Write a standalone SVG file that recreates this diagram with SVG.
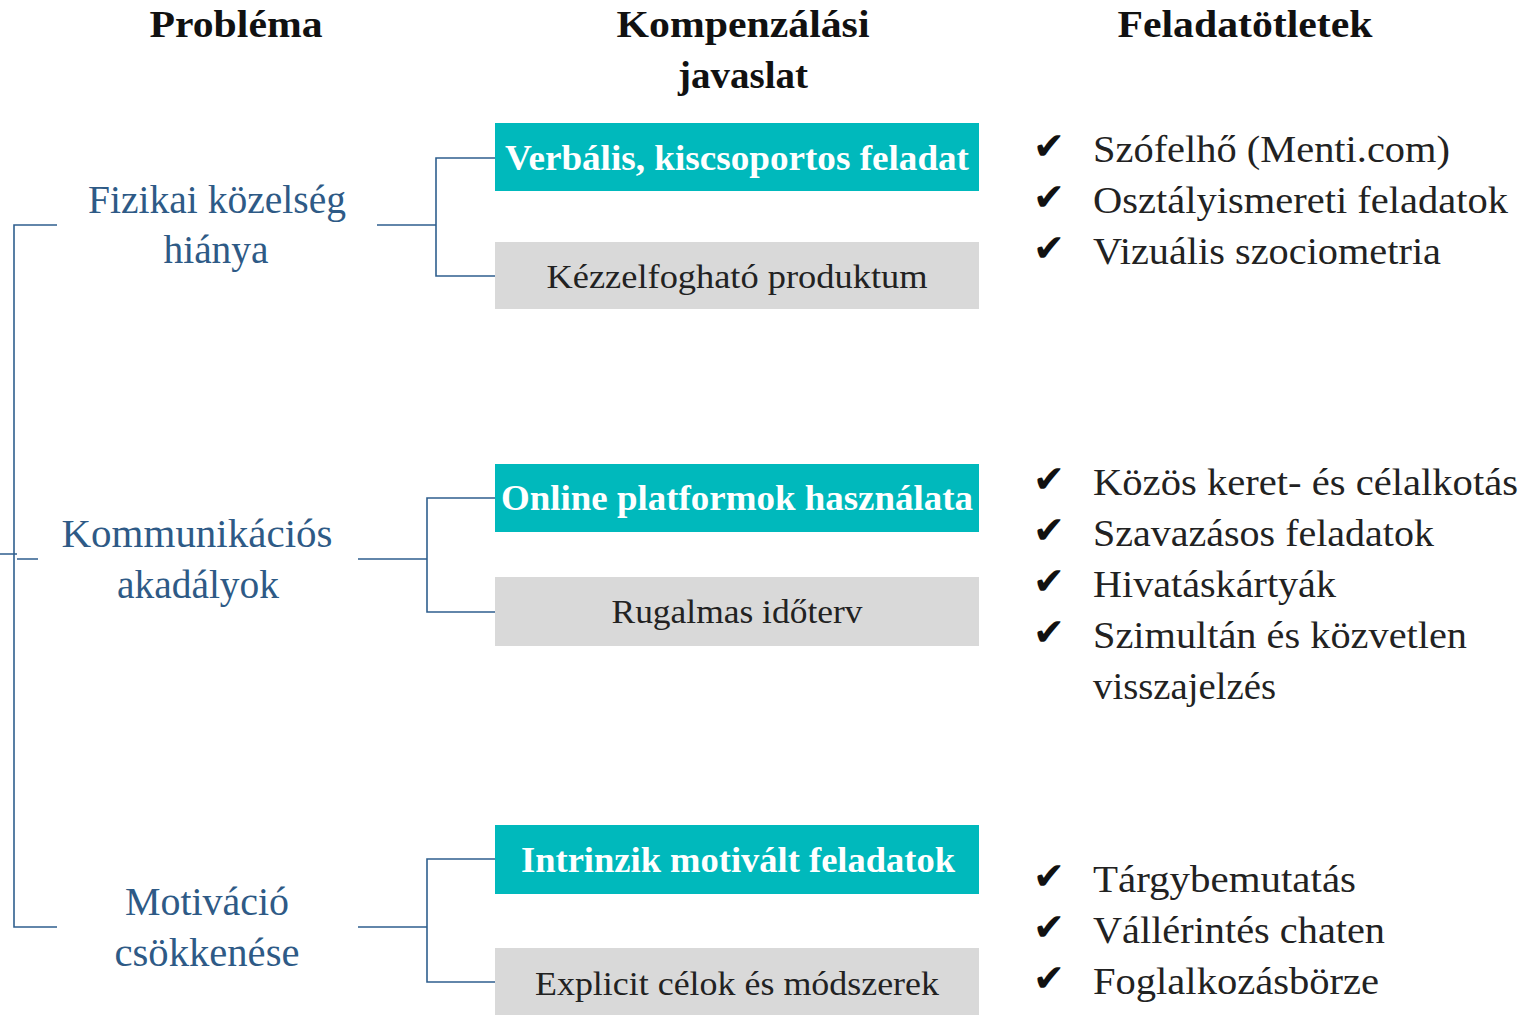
<svg xmlns="http://www.w3.org/2000/svg" width="1528" height="1015" viewBox="0 0 1528 1015">
<style>
.hdr{font-family:"Liberation Serif",serif;font-weight:bold;font-size:38px;fill:#111;text-anchor:middle}
.prob{font-family:"Liberation Serif",serif;font-size:39px;fill:#2E5A86;text-anchor:middle}
.teal{fill:#00B9BC}
.gray{fill:#D9D9D9}
.tt{font-family:"Liberation Serif",serif;font-weight:bold;font-size:35px;fill:#fff;text-anchor:middle}
.gt{font-family:"Liberation Serif",serif;font-size:34px;fill:#222;text-anchor:middle}
.li{font-family:"Liberation Serif",serif;font-size:38px;fill:#222}
.ck{font-family:"DejaVu Sans",sans-serif;font-size:38px;fill:#111}
.conn{fill:none;stroke:#2F5F8E;stroke-width:1.6}
</style>
<rect width="1528" height="1015" fill="#fff"/>
<g id="headers">
<text class="hdr" x="236" y="37" textLength="173" lengthAdjust="spacingAndGlyphs">Probléma</text>
<text class="hdr" x="743" y="37" textLength="253" lengthAdjust="spacingAndGlyphs">Kompenzálási</text>
<text class="hdr" x="743" y="88" textLength="130" lengthAdjust="spacingAndGlyphs">javaslat</text>
<text class="hdr" x="1245" y="37" textLength="255" lengthAdjust="spacingAndGlyphs">Feladatötletek</text>
</g>
<g id="connectors">
<path class="conn" d="M57,225 H14 V927 H57"/>
<path class="conn" d="M0,554 H17 M17,559 H38" stroke-width="2"/>
<path class="conn" d="M377,225 H436 M495,158 H436 V276 H495"/>
<path class="conn" d="M358,559 H427 M495,498 H427 V612 H495"/>
<path class="conn" d="M358,927 H427 M495,859 H427 V982 H495"/>
</g>
<g id="p1"><text class="prob" x="217" y="213" textLength="258" lengthAdjust="spacingAndGlyphs">Fizikai közelség</text><text class="prob" x="216" y="263" textLength="105" lengthAdjust="spacingAndGlyphs">hiánya</text></g>
<g id="p2"><text class="prob" x="197" y="547" textLength="271" lengthAdjust="spacingAndGlyphs">Kommunikációs</text><text class="prob" x="198" y="598" textLength="162" lengthAdjust="spacingAndGlyphs">akadályok</text></g>
<g id="p3"><text class="prob" x="207" y="915" textLength="164" lengthAdjust="spacingAndGlyphs">Motiváció</text><text class="prob" x="207" y="966" textLength="185" lengthAdjust="spacingAndGlyphs">csökkenése</text></g>
<g id="c1a"><rect class="teal" x="495" y="123" width="484" height="68"/><text class="tt" x="737" y="170" textLength="464" lengthAdjust="spacingAndGlyphs">Verbális, kiscsoportos feladat</text></g>
<g id="c1b"><rect class="gray" x="495" y="242" width="484" height="67"/><text class="gt" x="737" y="288" textLength="381" lengthAdjust="spacingAndGlyphs">Kézzelfogható produktum</text></g>
<g id="c2a"><rect class="teal" x="495" y="464" width="484" height="68"/><text class="tt" x="737" y="510" textLength="472" lengthAdjust="spacingAndGlyphs">Online platformok használata</text></g>
<g id="c2b"><rect class="gray" x="495" y="577" width="484" height="69"/><text class="gt" x="737" y="623" textLength="251" lengthAdjust="spacingAndGlyphs">Rugalmas időterv</text></g>
<g id="c3a"><rect class="teal" x="495" y="825" width="484" height="69"/><text class="tt" x="738" y="872" textLength="434" lengthAdjust="spacingAndGlyphs">Intrinzik motivált feladatok</text></g>
<g id="c3b"><rect class="gray" x="495" y="948" width="484" height="67"/><text class="gt" x="737" y="995" textLength="404" lengthAdjust="spacingAndGlyphs">Explicit célok és módszerek</text></g>
<g id="l1">
<text class="ck" x="1033" y="159">✔</text><text class="li" x="1093" y="162" textLength="357" lengthAdjust="spacingAndGlyphs">Szófelhő (Menti.com)</text>
<text class="ck" x="1033" y="210">✔</text><text class="li" x="1093" y="213" textLength="415" lengthAdjust="spacingAndGlyphs">Osztályismereti feladatok</text>
<text class="ck" x="1033" y="261">✔</text><text class="li" x="1093" y="264" textLength="348" lengthAdjust="spacingAndGlyphs">Vizuális szociometria</text>
</g>
<g id="l2">
<text class="ck" x="1033" y="492">✔</text><text class="li" x="1093" y="495" textLength="425" lengthAdjust="spacingAndGlyphs">Közös keret- és célalkotás</text>
<text class="ck" x="1033" y="543">✔</text><text class="li" x="1093" y="546" textLength="341" lengthAdjust="spacingAndGlyphs">Szavazásos feladatok</text>
<text class="ck" x="1033" y="594">✔</text><text class="li" x="1093" y="597" textLength="243" lengthAdjust="spacingAndGlyphs">Hivatáskártyák</text>
<text class="ck" x="1033" y="645">✔</text><text class="li" x="1093" y="648" textLength="374" lengthAdjust="spacingAndGlyphs">Szimultán és közvetlen</text>
<text class="li" x="1093" y="699" textLength="183" lengthAdjust="spacingAndGlyphs">visszajelzés</text>
</g>
<g id="l3">
<text class="ck" x="1033" y="889">✔</text><text class="li" x="1093" y="892" textLength="263" lengthAdjust="spacingAndGlyphs">Tárgybemutatás</text>
<text class="ck" x="1033" y="940">✔</text><text class="li" x="1093" y="943" textLength="292" lengthAdjust="spacingAndGlyphs">Vállérintés chaten</text>
<text class="ck" x="1033" y="991">✔</text><text class="li" x="1093" y="994" textLength="286" lengthAdjust="spacingAndGlyphs">Foglalkozásbörze</text>
</g>
</svg>
